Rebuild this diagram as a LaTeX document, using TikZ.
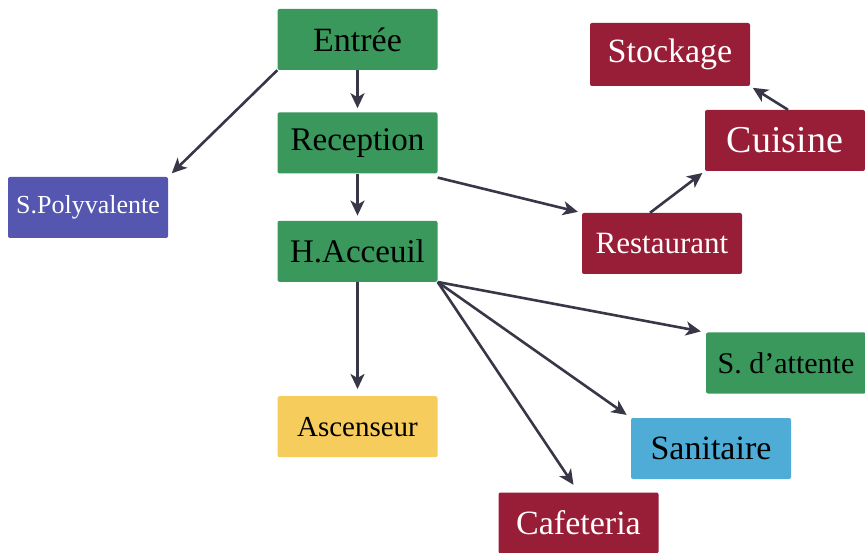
\documentclass[tikz,border=0pt]{standalone}
\usepackage{fontspec}
\setmainfont{Liberation Serif}
\usetikzlibrary{arrows.meta,positioning}
\definecolor{grnfill}{RGB}{58,152,92}
\definecolor{redfill}{RGB}{152,30,55}
\definecolor{blufill}{RGB}{84,86,176}
\definecolor{yelfill}{RGB}{246,205,92}
\definecolor{cyafill}{RGB}{78,172,214}
\definecolor{arrclr}{RGB}{55,55,72}
\tikzset{
  %% standard room block
  room/.style={rectangle,rounded corners=2pt,draw=none,
    minimum width=160pt,minimum height=61pt,inner sep=2pt,
    align=center,font=\fontsize{33}{36}\selectfont},
  %% green block (entrance path)
  gblk/.style={room,fill=grnfill,text=black},
  %% dark red block (restaurant side)
  rblk/.style={room,fill=redfill,text=white},
  %% other blocks
  bblk/.style={room,fill=blufill,text=white},
  yblk/.style={room,fill=yelfill,text=black},
  cblk/.style={room,fill=cyafill,text=black},
  %% arrows
  arr/.style={-{Stealth[length=15pt,width=14pt,inset=4pt]},line width=2.6pt,color=arrclr},
}
\begin{document}
\begin{tikzpicture}[x=1pt,y=-1pt]
  \useasboundingbox (0,0) rectangle (865,553);

  %% Main column
  \node[gblk,font=\fontsize{34}{36}\selectfont] (entree) at (357.5,39.5) {Entrée};
  \node[gblk,below=42pt of entree] (recep) {Reception};
  \node[gblk,below=47pt of recep]  (hacc)  {H.Acceuil};
  \node[yblk,below=114pt of hacc,font=\fontsize{29}{32}\selectfont] (asc) {Ascenseur};

  %% Left side
  \node[bblk,font=\fontsize{26}{30}\selectfont] (poly) at (88,207.5) {S.Polyvalente};

  %% Restaurant side
  \node[rblk,font=\fontsize{31}{34}\selectfont] (resto) at (662,243.5) {Restaurant};
  \node[rblk,font=\fontsize{38}{40}\selectfont] (cuis)  at (785,140.5) {Cuisine};
  \node[rblk,minimum height=63pt,font=\fontsize{34}{36}\selectfont] (stock) at (670,54.5) {Stockage};

  %% Hall branches
  \node[gblk,font=\fontsize{30}{32}\selectfont] (att)   at (786,363)   {S. d'attente};
  \node[cblk,font=\fontsize{34}{36}\selectfont] (sanit) at (711,448.5) {Sanitaire};
  \node[rblk,font=\fontsize{34}{36}\selectfont] (cafe)  at (578.5,523) {Cafeteria};

  %% Main column arrows
  \draw[arr,shorten >=4pt] (entree)--(recep);
  \draw[arr,shorten >=5pt] (recep)--(hacc);
  \draw[arr,shorten >=7pt] (hacc)--(asc);

  %% Side arrows
  \draw[arr,shorten >=5pt] (entree.south west)--(poly.north east);
  \draw[arr,shorten >=4pt] ([yshift=-4pt]recep.south east)--(resto.north west);
  \draw[arr,shorten >=3pt] ([xshift=-12pt]resto.north)--(cuis.south west);
  \draw[arr,shorten >=3pt] ([xshift=3pt]cuis.north)--(stock.south east);

  %% Hall arrows
  \draw[arr,shorten >=5pt] (hacc.south east)--(att.north west);
  \draw[arr,shorten >=5pt] (hacc.south east)--(sanit.north west);
  \draw[arr,shorten >=9pt] (hacc.south east)--(cafe.north);

\end{tikzpicture}
\end{document}
